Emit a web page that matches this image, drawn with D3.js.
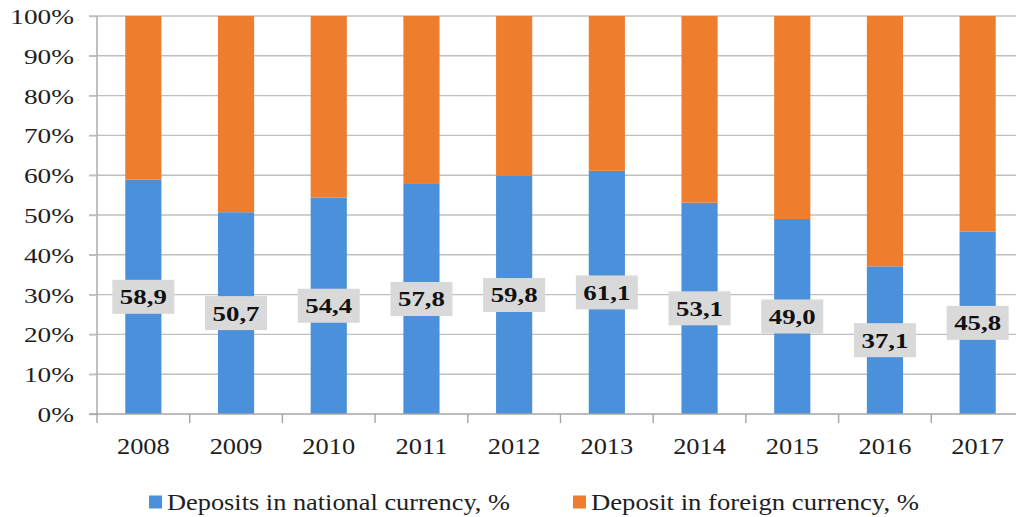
<!DOCTYPE html>
<html>
<head>
<meta charset="utf-8">
<script src="https://cdn.jsdelivr.net/npm/d3@7"></script>
<style>
  html, body { margin: 0; padding: 0; background: #fff; }
  svg { display: block; }
</style>
</head>
<body>
<svg id="chart" width="1016" height="517"></svg>
<script>
// Share of deposits by currency, 2008–2017
const years = ["2008", "2009", "2010", "2011", "2012", "2013", "2014", "2015", "2016", "2017"];
const nationalShare = [58.9, 50.7, 54.4, 57.8, 59.8, 61.1, 53.1, 49.0, 37.1, 45.8];
const foreignShare = nationalShare.map(v => +(100 - v).toFixed(1));
const yTicks = [0, 10, 20, 30, 40, 50, 60, 70, 80, 90, 100];
const seriesNames = ["Deposits in national currency, %", "Deposit in foreign currency, %"];
const seriesColors = ["#4a90da", "#ee7d2d"];

const FONT = "'Liberation Serif', 'Times New Roman', Times, serif";
const INK = "#1e1e1e";

const svg = d3.select("#chart");
const plotLeft = 97, plotTop = 16, plotBottom = 414, step = 92.7;

const x = d3.scaleBand().domain(years)
  .range([plotLeft, plotLeft + step * years.length]).paddingInner(0.61).paddingOuter(0.305);
const y = d3.scaleLinear().domain([0, 100]).range([plotBottom, plotTop]);

// widen glyphs horizontally by a factor (the typeface is set a little wide)
function widen(sel, factor) {
  sel.each(function () {
    const w = this.getComputedTextLength();
    d3.select(this).attr("textLength", w * factor).attr("lengthAdjust", "spacingAndGlyphs");
  });
}

// horizontal gridlines
svg.append("g").selectAll("line").data(yTicks.filter(d => d > 0)).join("line")
  .attr("x1", plotLeft - 8).attr("x2", 1016)
  .attr("y1", d => y(d)).attr("y2", d => y(d))
  .attr("stroke", "#bfbfbf").attr("stroke-width", 1.4);

// stacked bars
const rows = years.map((yr, i) => ({ year: yr, national: nationalShare[i], foreign: foreignShare[i] }));
const stack = d3.stack().keys(["national", "foreign"])(rows);
svg.append("g").selectAll("g").data(stack).join("g")
  .attr("fill", (d, i) => seriesColors[i])
  .selectAll("rect").data(d => d).join("rect")
  .attr("x", d => x(d.data.year))
  .attr("width", x.bandwidth())
  .attr("y", d => y(d[1]))
  .attr("height", d => y(d[0]) - y(d[1]));

// y axis
const yAxis = svg.append("g").attr("transform", `translate(${plotLeft},0)`)
  .call(d3.axisLeft(y).tickValues(yTicks).tickFormat(d => d + "%").tickSize(8).tickPadding(15));
yAxis.attr("font-family", FONT);
yAxis.select(".domain").attr("stroke", "#a6a6a6").attr("stroke-width", 1.4).attr("d", `M0,${plotTop}V${plotBottom}`);
yAxis.selectAll(".tick line").attr("stroke", "#bfbfbf").attr("stroke-width", 1.4);
yAxis.selectAll(".tick text").attr("font-family", FONT).attr("font-size", 21).attr("fill", INK).attr("dy", "0.36em");
widen(yAxis.selectAll(".tick text"), 1.3);

// x axis with ticks between categories
const xAxis = svg.append("g").attr("transform", `translate(0,${plotBottom})`);
xAxis.append("line").attr("x1", plotLeft - 8).attr("x2", 1016).attr("stroke", "#a6a6a6").attr("stroke-width", 1.4);
xAxis.selectAll("line.sep").data(d3.range(years.length + 1)).join("line")
  .attr("class", "sep")
  .attr("x1", i => plotLeft + step * i).attr("x2", i => plotLeft + step * i)
  .attr("y1", 0).attr("y2", 9).attr("stroke", "#a6a6a6").attr("stroke-width", 1.4);
const yearText = xAxis.selectAll("text").data(years).join("text")
  .attr("x", d => x(d) + x.bandwidth() / 2).attr("y", 40)
  .attr("text-anchor", "middle").attr("font-family", FONT).attr("font-size", 24).attr("fill", INK)
  .text(d => d);
widen(yearText, 1.1);

// value labels for national-currency share
const lbl = svg.append("g").selectAll("g").data(rows).join("g")
  .attr("transform", d => `translate(${x(d.year) + x.bandwidth() / 2},${y(d.national / 2)})`);
lbl.append("rect").attr("x", -31).attr("y", -17).attr("width", 62).attr("height", 34).attr("fill", "#d9d9d9");
const valText = lbl.append("text").attr("text-anchor", "middle").attr("dy", "0.34em")
  .attr("font-family", FONT).attr("font-size", 22).attr("font-weight", "bold").attr("fill", "#111")
  .text(d => d.national.toFixed(1).replace(".", ","));
widen(valText, 1.22);

// legend
const legendX = [149, 573];
const legendW = [343, 328];
const leg = svg.append("g").selectAll("g").data(seriesNames).join("g")
  .attr("transform", (d, i) => `translate(${legendX[i]},502)`);
leg.append("rect").attr("x", 0).attr("y", -6.5).attr("width", 13).attr("height", 13)
  .attr("fill", (d, i) => seriesColors[i]);
leg.append("text").attr("x", 18).attr("dy", "0.34em")
  .attr("font-family", FONT).attr("font-size", 23).attr("fill", INK)
  .attr("textLength", (d, i) => legendW[i]).attr("lengthAdjust", "spacingAndGlyphs")
  .text(d => d);
</script>
</body>
</html>
